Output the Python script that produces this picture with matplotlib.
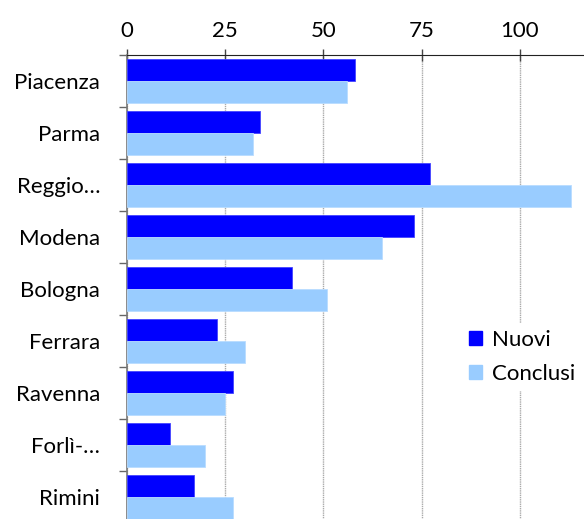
import matplotlib
matplotlib.use("Agg")
import matplotlib.pyplot as plt
import numpy as np
from matplotlib.patches import Patch

categories = ["Piacenza", "Parma", "Reggio…", "Modena", "Bologna", "Ferrara", "Ravenna", "Forlì-…", "Rimini"]
nuovi = [58, 34, 77, 73, 42, 23, 27, 11, 17]
conclusi = [56, 32, 113, 65, 51, 30, 25, 20, 27]
xticks = [0, 25, 50, 75, 100]

plt.rcParams['font.family'] = ['Lato', 'DejaVu Sans']

W, H = 584, 519
fig = plt.figure(figsize=(W/100, H/100), dpi=100)
left, right, top, bottom = 126.7, 583, 55, 523
ax = fig.add_axes([left/W, 1-bottom/H, (right-left)/W, (bottom-top)/H])

n = len(categories)
y = np.arange(n)
bh = 0.417
ax.barh(y - bh/2, nuovi, height=bh, color='#0000FF', edgecolor='#4444FF', linewidth=0.6, label='Nuovi', zorder=3)
ax.barh(y + bh/2, conclusi, height=bh, color='#99CCFF', edgecolor='#B8DCFF', linewidth=0.6, label='Conclusi', zorder=3)

ax.set_ylim(n - 0.5, -0.5)
ax.set_xlim(0, (right-left)/3.933)
ax.xaxis.tick_top()
ax.set_xticks(xticks)
ax.set_xticklabels([str(v) for v in xticks], fontsize=16)
ax.tick_params(axis='x', direction='inout', length=8, width=1, colors='#444444', labelcolor='black', pad=6)
ax.grid(axis='x', color='#AAAAAA', linestyle=(0, (1, 0.6)), linewidth=1, zorder=0)

ax.set_yticks(y)
ax.set_yticklabels(categories, fontsize=16)
ax.set_yticks(np.arange(-0.5, n, 1), minor=True)
ax.tick_params(axis='y', which='major', length=0, pad=19)
ax.tick_params(axis='y', which='minor', length=6, width=1, color='#666666', direction='out')

for s in ['right', 'bottom']:
    ax.spines[s].set_visible(False)
ax.spines['top'].set_color('#222222')
ax.spines['left'].set_color('#777777')
ax.spines['left'].set_linewidth(1.2)

leg = ax.legend(handles=[Patch(color='#0000FF', label='Nuovi'), Patch(color='#99CCFF', label='Conclusi')],
                loc='upper left', bbox_to_anchor=((462-left)/(right-left), (bottom-323)/(bottom-top)),
                frameon=True, fontsize=16, handlelength=0.6, handleheight=0.6, handletextpad=0.45,
                labelspacing=0.65, borderpad=0.3, borderaxespad=0)
leg.get_frame().set_edgecolor('none')
leg.get_frame().set_facecolor('white')
leg.get_frame().set_alpha(1)
leg.set_zorder(5)

fig.savefig("out.png", dpi=100)
